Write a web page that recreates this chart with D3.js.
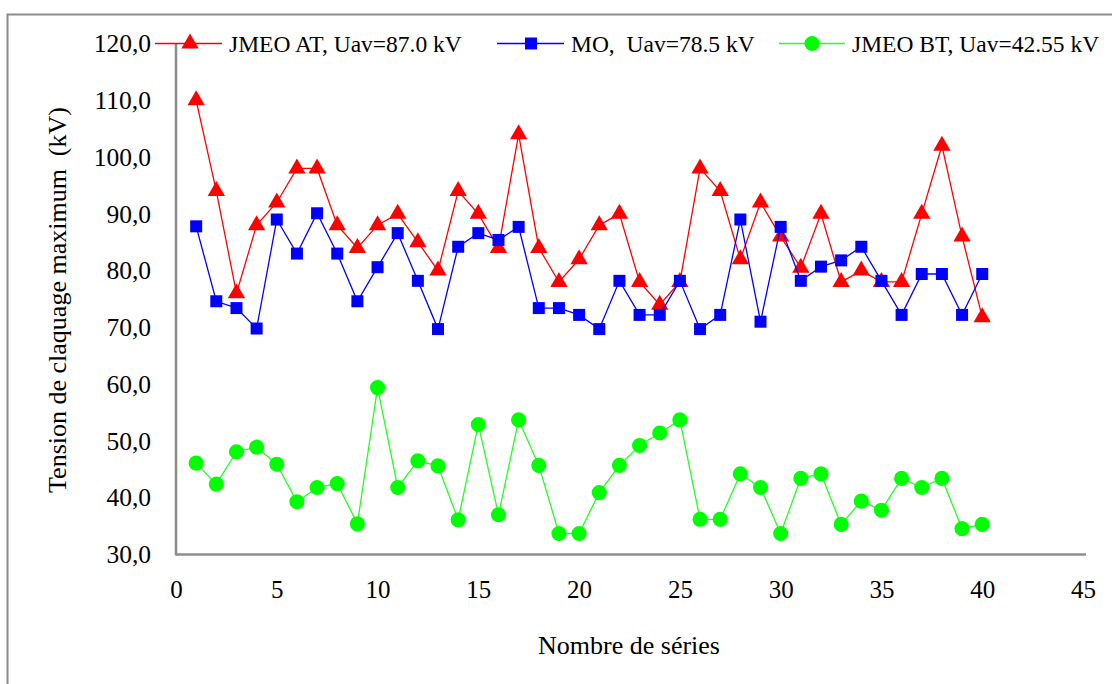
<!DOCTYPE html>
<html><head><meta charset="utf-8">
<script src="https://cdn.jsdelivr.net/npm/d3@7"></script>
<style>
html,body{margin:0;padding:0;background:#fff;}
svg{display:block;}
svg text{font-family:"Liberation Serif","Times New Roman",serif !important;fill:#000;}
</style></head>
<body>
<svg id="chart" width="1112" height="684"></svg>
<script>
const seriesIndex = d3.range(1, 41);
const jmeoAT = [110,94,76,88,92,98,98,88,84,88,90,85,80,94,90,84,104,84,78,82,88,90,78,74,78,98,94,82,92,86,80.5,90,78,80,78,78,90,102,86,71.8];
const mo = [87.8,74.6,73.4,69.8,89,83,90.1,83,74.6,80.6,86.6,78.2,69.7,84.2,86.6,85.4,87.7,73.4,73.4,72.2,69.7,78.2,72.2,72.2,78.2,69.7,72.2,89,71,87.7,78.2,80.7,81.8,84.2,78.2,72.2,79.4,79.4,72.2,79.4];
const jmeoBT = [46.1,42.4,48.1,48.9,45.9,39.3,41.8,42.5,35.4,59.4,41.8,46.5,45.6,36.1,52.9,37.0,53.7,45.7,33.7,33.7,40.9,45.7,49.2,51.4,53.7,36.2,36.2,44.2,41.8,33.7,43.4,44.2,35.3,39.4,37.8,43.4,41.8,43.4,34.55,35.3];
const seriesNames = ["JMEO AT, Uav=87.0 kV", "MO,  Uav=78.5 kV", "JMEO BT, Uav=42.55 kV"];
const xTicks = [0,5,10,15,20,25,30,35,40,45];
const yTicks = [30,40,50,60,70,80,90,100,110,120];
const xTitle = "Nombre de séries";
const yTitle = "Tension de claquage maximum  (kV)";

const svg = d3.select("#chart");
const x = d3.scaleLinear().domain([0,45]).range([176,1083]);
const y = d3.scaleLinear().domain([30,120]).range([554.5,43.5]);

// outer frame
svg.append("rect").attr("x",7.5).attr("y",14.5).attr("width",1200).attr("height",800)
  .attr("fill","none").attr("stroke","#8c8c8c").attr("stroke-width",2);

// axes
const gx = svg.append("g").attr("transform",`translate(0,${y(30)})`)
  .call(d3.axisBottom(x).tickValues(xTicks).tickSize(0).tickPadding(26).tickFormat(d3.format("d")));
gx.attr("font-family",null).attr("font-size",null);
gx.select(".domain").attr("stroke","#8c8c8c").attr("stroke-width",2.5).attr("d",`M${x(0)},0H1086`);
gx.selectAll("text").attr("font-size",25);

const gy = svg.append("g").attr("transform",`translate(${x(0)},0)`)
  .call(d3.axisLeft(y).tickValues(yTicks).tickSize(0).tickPadding(25).tickFormat(d => d.toFixed(1).replace(".",",")));
gy.attr("font-family",null).attr("font-size",null);
gy.select(".domain").attr("stroke","#8c8c8c").attr("stroke-width",2.5).attr("d",`M0,${y(120)}V${y(30)+1}`);
gy.selectAll("text").attr("font-size",25.5);

// titles
svg.append("text").attr("x",629).attr("y",654).attr("text-anchor","middle")
  .attr("font-size",26).text(xTitle);
svg.append("text").attr("transform",`translate(66,300) rotate(-90)`).attr("text-anchor","middle")
  .attr("font-size",26).style("white-space","pre").text(yTitle);

const defs = [
  {vals: jmeoAT, color:"#ff0000", sym:d3.symbolTriangle, size:130},
  {vals: mo, color:"#0000ff", sym:d3.symbolSquare, size:144},
  {vals: jmeoBT, color:"#00ee00", sym:d3.symbolCircle, size:180}
];
const line = d3.line().x((d,i)=>x(seriesIndex[i])).y(d=>y(d));
defs.forEach((s,k) => {
  const g = svg.append("g");
  g.append("path").attr("d",line(s.vals)).attr("fill","none")
    .attr("stroke",k===2?"#22ff22":s.color).attr("stroke-width",1.3);
  g.selectAll("path.m").data(s.vals).join("path").attr("class","m")
    .attr("transform",(d,i)=>`translate(${x(seriesIndex[i])},${y(d)})`)
    .attr("d",d3.symbol().type(s.sym).size(s.size)).attr("fill",k===2?"#00ff00":s.color);
});

// legend
const leg = [
  {x1:155,x2:222,mx:190,tx:229},
  {x1:497,x2:564,mx:531,tx:571},
  {x1:779,x2:845,mx:812,tx:852}
];
leg.forEach((l,k) => {
  const s = defs[k];
  const ly = 43.5;
  svg.append("line").attr("x1",l.x1).attr("x2",l.x2).attr("y1",ly).attr("y2",ly)
    .attr("stroke",k===2?"#22ff22":s.color).attr("stroke-width",1.3);
  svg.append("path").attr("transform",`translate(${l.mx},${ly})`)
    .attr("d",d3.symbol().type(s.sym).size(s.size)).attr("fill",k===2?"#00ff00":s.color);
  svg.append("text").attr("x",l.tx).attr("y",ly+8).attr("font-size",23.5)
    .style("white-space","pre").text(seriesNames[k]);
});
</script>
</body></html>
